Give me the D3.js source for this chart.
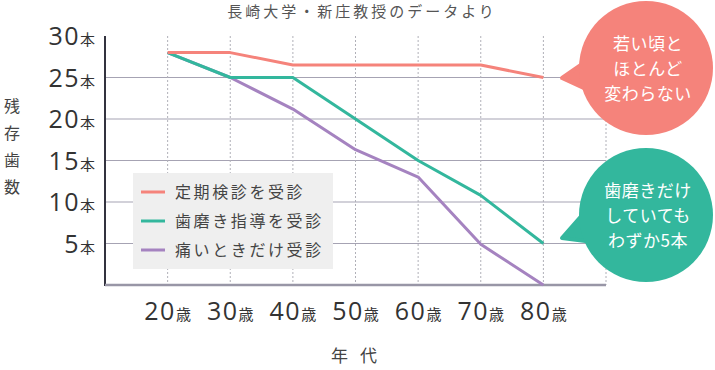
<!DOCTYPE html>
<html>
<head>
<meta charset="utf-8">
<style>
  body { margin: 0; background: #fff; }
  svg { display: block; font-family: "Noto Sans CJK JP", sans-serif; }
  .num { font-family: "Open Sans", "Noto Sans", sans-serif; font-weight: 400; }
</style>
</head>
<body>
<svg id="chart" width="715" height="370"></svg>
<script src="https://d3js.org/d3.v7.min.js"></script>
<script>
// Data
const ages = ["20", "30", "40", "50", "60", "70", "80"];
const yTicks = [5, 10, 15, 20, 25, 30];
const seriesNames = ["定期検診を受診", "歯磨き指導を受診", "痛いときだけ受診"];
const regularCheckup = [28, 28, 26.5, 26.5, 26.5, 26.5, 25];
const brushingGuidance = [28, 25, 25, 20, 15, 10.8, 5];
const onlyWhenPain = [28, 25, 21.2, 16.3, 13, 4.9, 0];
const colors = ["#f5837b", "#33b79d", "#a583c0"];

const svg = d3.select("#chart");

// Scales: x runs one slot past each end so the axis frame is wider than the data
const x = d3.scaleLinear().domain([-1, 7]).range([105, 606]);
const y = d3.scaleLinear().domain([0, 30]).range([285, 36]);

// Title
svg.append("text")
  .attr("x", 362).attr("y", 17)
  .attr("text-anchor", "middle")
  .attr("font-size", 15).attr("letter-spacing", 3)
  .attr("fill", "#555")
  .text("長崎大学・新庄教授のデータより");

// Horizontal grid lines
svg.append("g").selectAll("line")
  .data(yTicks.filter(d => d < 30))
  .join("line")
  .attr("x1", x(-1)).attr("x2", x(7))
  .attr("y1", d => y(d)).attr("y2", d => y(d))
  .attr("stroke", "#a6a3b3").attr("stroke-width", 1.2);

// Vertical dotted lines
svg.append("g").selectAll("line")
  .data(d3.range(0, 8))
  .join("line")
  .attr("x1", d => x(d)).attr("x2", d => x(d))
  .attr("y1", y(30)).attr("y2", y(0))
  .attr("stroke", "#b0b0b8").attr("stroke-width", 1)
  .attr("stroke-dasharray", "2,2");

// Axis frame
svg.append("line")
  .attr("x1", x(-1)).attr("x2", x(-1))
  .attr("y1", y(30)).attr("y2", y(0) + 1)
  .attr("stroke", "#33333f").attr("stroke-width", 2);
svg.append("line")
  .attr("x1", x(-1)).attr("x2", x(7))
  .attr("y1", y(0)).attr("y2", y(0))
  .attr("stroke", "#9896a6").attr("stroke-width", 2.5);

// Y tick labels: big number + small 本
const yLab = svg.append("g").selectAll("text")
  .data(yTicks)
  .join("text")
  .attr("x", 95).attr("y", d => y(d) + 9)
  .attr("text-anchor", "end")
  .attr("fill", "#333");
yLab.append("tspan").attr("class", "num").attr("font-size", 25)
  .attr("letter-spacing", 1.5).text(d => d);
yLab.append("tspan").attr("font-size", 15).attr("dx", 0).text("本");

// X tick labels: big number + small 歳
const xLab = svg.append("g").selectAll("text")
  .data(ages)
  .join("text")
  .attr("x", (d, i) => x(i)).attr("y", 320)
  .attr("text-anchor", "middle")
  .attr("fill", "#333");
xLab.append("tspan").attr("class", "num").attr("font-size", 25)
  .attr("letter-spacing", 1.5).text(d => d);
xLab.append("tspan").attr("font-size", 15).attr("dx", 0).text("歳");

// Axis titles
svg.append("text")
  .attr("x", 360).attr("y", 362)
  .attr("text-anchor", "middle")
  .attr("font-size", 17).attr("fill", "#444")
  .attr("letter-spacing", 12)
  .text("年代");
svg.append("g").selectAll("text")
  .data("残存歯数".split(""))
  .join("text")
  .attr("x", 12).attr("y", (d, i) => 112 + i * 27)
  .attr("text-anchor", "middle")
  .attr("font-size", 16).attr("fill", "#444")
  .text(d => d);

// Lines
const line = d3.line().x((d, i) => x(i)).y(d => y(d));
[regularCheckup, brushingGuidance, onlyWhenPain].slice().reverse().forEach((s, k) => {
  svg.append("path")
    .datum(s)
    .attr("d", line)
    .attr("fill", "none")
    .attr("stroke", colors[2 - k])
    .attr("stroke-width", 3)
    .attr("stroke-linejoin", "round");
});

// Legend
const lg = svg.append("g");
lg.append("rect")
  .attr("x", 133).attr("y", 173).attr("width", 200).attr("height", 96)
  .attr("fill", "#efefef");
seriesNames.forEach((name, i) => {
  const yy = 192 + i * 29;
  lg.append("line")
    .attr("x1", 141).attr("x2", 165).attr("y1", yy).attr("y2", yy)
    .attr("stroke", colors[i]).attr("stroke-width", 3);
  lg.append("text")
    .attr("x", 175).attr("y", yy + 6)
    .attr("font-size", 16).attr("letter-spacing", 2.6)
    .attr("fill", "#444")
    .text(name);
});

// Speech bubbles
function bubble(cx, cy, tipX, tipY, color, lines) {
  const g = svg.append("g");
  g.append("path")
    .attr("d", `M${cx - 55},${cy - 10} L${tipX},${tipY} L${cx - 45},${cy + 28} Z`)
    .attr("fill", color).attr("stroke", color).attr("stroke-width", 4)
    .attr("stroke-linejoin", "round");
  g.append("circle")
    .attr("cx", cx).attr("cy", cy).attr("r", 67)
    .attr("fill", color);
  g.selectAll("text")
    .data(lines)
    .join("text")
    .attr("x", cx + 2).attr("y", (d, i) => cy - 18 + i * 25)
    .attr("text-anchor", "middle")
    .attr("font-size", 17).attr("fill", "#fff")
    .attr("letter-spacing", 0.5)
    .text(d => d);
}
bubble(646, 68, 562, 78, colors[0], ["若い頃と", "ほとんど", "変わらない"]);
bubble(646, 215, 562, 238, colors[1], ["歯磨きだけ", "していても", "わずか5本"]);
</script>
</body>
</html>
